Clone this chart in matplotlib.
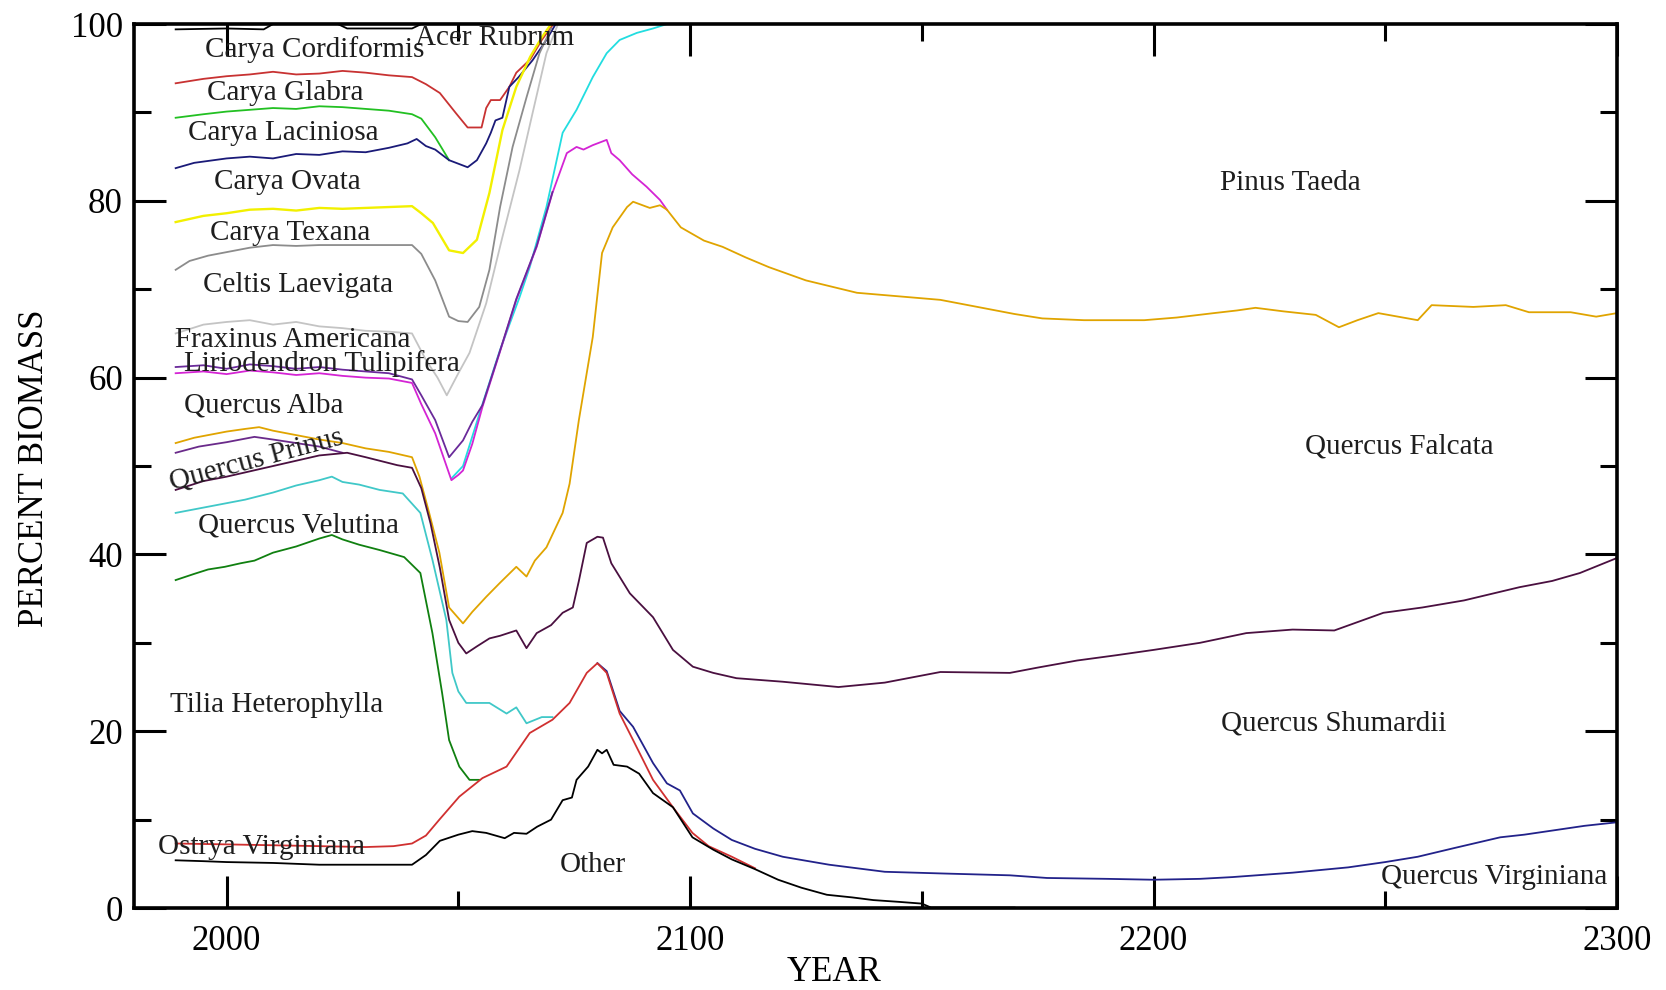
import matplotlib
matplotlib.use('Agg')
import matplotlib.pyplot as plt
from matplotlib.ticker import MultipleLocator

plt.rcParams['font.family'] = ['Liberation Serif', 'DejaVu Serif']

# cumulative boundaries (percent biomass)
acer_yr = [1989, 2000, 2008, 2010, 2024, 2026, 2040, 2042]
acer_val = [99.4, 99.5, 99.4, 100, 100, 99.5, 99.5, 100]

cordiformis_yr = [1989, 1995, 2000, 2005, 2010, 2015, 2020, 2025, 2030, 2035, 2040, 2043, 2046,
                  2049.5, 2052, 2055, 2056, 2057, 2059, 2061, 2062.5, 2065.5, 2068, 2070.5]
cordiformis_val = [93.3, 93.8, 94.1, 94.3, 94.6, 94.3, 94.4, 94.7, 94.5, 94.2, 94.0, 93.2, 92.2,
                   89.9, 88.3, 88.3, 90.5, 91.4, 91.4, 92.9, 94.5, 96.0, 98.2, 100]

glabra_yr = [1989, 1995, 2000, 2005, 2010, 2015, 2020, 2025, 2030, 2035, 2040, 2042, 2045, 2048]
glabra_val = [89.4, 89.8, 90.1, 90.3, 90.5, 90.4, 90.7, 90.6, 90.4, 90.2, 89.8, 89.3, 87.2, 84.6]

laciniosa_yr = [1989, 1993, 2000, 2005, 2010, 2015, 2020, 2025, 2030, 2035, 2039, 2041, 2043, 2045,
                2048, 2050, 2052, 2054, 2056, 2057, 2058, 2059.5, 2061, 2063, 2066, 2069, 2071]
laciniosa_val = [83.7, 84.3, 84.8, 85.0, 84.8, 85.3, 85.2, 85.6, 85.5, 86.0, 86.5, 87.0, 86.2, 85.8,
                 84.6, 84.2, 83.8, 84.6, 86.5, 87.7, 89.1, 89.4, 92.9, 94.0, 95.9, 98.2, 100]

ovata_yr = [1989, 1995, 2000, 2005, 2010, 2015, 2020, 2025, 2030, 2035, 2040, 2042, 2044.5, 2048,
            2051, 2054, 2056.7, 2059.5, 2062.5, 2065.5, 2068, 2070]
ovata_val = [77.6, 78.3, 78.6, 79.0, 79.1, 78.9, 79.2, 79.1, 79.2, 79.3, 79.4, 78.6, 77.5, 74.4,
             74.1, 75.6, 80.9, 88.0, 92.9, 96.3, 98.5, 100]

texana_yr = [1989, 1992, 1996, 2000, 2005, 2010, 2015, 2020, 2030, 2040, 2042, 2045, 2048, 2050,
             2052, 2054.5, 2056.7, 2059, 2061.7, 2064.7, 2067.5, 2070]
texana_val = [72.2, 73.2, 73.8, 74.2, 74.7, 75.0, 74.9, 75.0, 75.0, 75.0, 74.0, 71.0, 66.9, 66.4,
              66.3, 68.0, 72.2, 79.3, 86.1, 91.7, 96.7, 99.5]

celtis_yr = [1989, 1995, 2000, 2005, 2010, 2015, 2020, 2025, 2030, 2035, 2040, 2043, 2045.5, 2047.5,
             2050, 2052.4, 2056, 2059.5, 2063.2, 2066, 2069, 2071.5]
celtis_val = [65.0, 66.0, 66.3, 66.5, 66.0, 66.3, 65.8, 65.6, 65.3, 65.2, 65.0, 62.0, 60.0, 58.0,
              60.5, 62.8, 68.4, 75.9, 83.5, 89.9, 96.7, 100]

fraxinus_yr = [1989, 1995, 2000, 2005, 2010, 2015, 2020, 2025, 2030, 2035, 2040, 2042, 2045, 2048,
               2051, 2053, 2055.2, 2058.9, 2062.5, 2066.9, 2070.3]
fraxinus_val = [61.2, 61.4, 61.0, 61.5, 61.3, 61.0, 61.2, 60.9, 60.7, 60.5, 59.8, 58.0, 55.2, 51.0,
                52.9, 55.0, 56.9, 62.9, 68.9, 74.9, 81.0]

pinus_top_yr = [2048.5, 2051, 2055.2, 2058.9, 2063.2, 2065.4, 2069, 2072.5, 2075.5, 2079, 2082,
                2084.8, 2088.5, 2092, 2095]
pinus_top_val = [48.6, 50.0, 57.0, 63.0, 69.1, 72.5, 79.3, 87.7, 90.3, 94.0, 96.7, 98.2, 99.0, 99.5, 100]

lirio_yr = [1989, 1995, 2000, 2005, 2010, 2015, 2020, 2025, 2030, 2035, 2040, 2042, 2045, 2048.5,
            2050, 2051, 2053, 2055.2, 2058.9, 2062.5, 2066.9, 2070.3, 2073.4, 2075.5, 2077, 2079,
            2082, 2083, 2084.8, 2087.5, 2090.6, 2093.5, 2095]
lirio_val = [60.5, 60.7, 60.4, 60.8, 60.6, 60.3, 60.5, 60.2, 60.0, 59.9, 59.4, 57.0, 53.7, 48.4,
             49.0, 49.5, 52.5, 56.7, 62.8, 68.8, 74.8, 80.9, 85.4, 86.1, 85.8, 86.3,
             86.9, 85.4, 84.6, 83.0, 81.6, 80.1, 79.0]

alba_yr = [1989, 1993, 1997, 2000, 2004, 2007, 2010, 2015, 2020, 2025, 2030, 2035, 2040, 2041.6,
           2043.7, 2045.9, 2048, 2050, 2051, 2053, 2056, 2059, 2062.5, 2064.7, 2066.5, 2069, 2072.5,
           2074, 2076, 2079, 2081, 2083.3, 2086.4, 2087.7, 2091.3, 2093.5, 2095, 2098, 2103, 2107,
           2112, 2117, 2125, 2136, 2145, 2154, 2163, 2170, 2176, 2185, 2198, 2205, 2213, 2218, 2222,
           2228, 2235, 2240, 2244, 2248.5, 2257, 2260, 2269, 2276, 2281, 2290, 2295.5, 2300]
alba_val = [52.6, 53.2, 53.6, 53.9, 54.2, 54.4, 54.0, 53.5, 53.0, 52.6, 52.0, 51.6, 51.0, 48.8,
            44.7, 40.2, 34.0, 32.8, 32.2, 33.5, 35.2, 36.8, 38.6, 37.5, 39.3, 40.8, 44.7,
            48.0, 55.2, 64.6, 74.1, 77.0, 79.3, 79.9, 79.2, 79.5, 79.0, 77.0, 75.5, 74.8,
            73.6, 72.5, 71.0, 69.6, 69.2, 68.8, 67.9, 67.2, 66.7, 66.5, 66.5, 66.8, 67.3, 67.6, 67.9,
            67.5, 67.1, 65.7, 66.5, 67.3, 66.5, 68.2, 68.0, 68.2, 67.4, 67.4, 66.9, 67.3]

falcata_yr = [1989, 1994, 2000, 2006, 2010, 2015, 2020, 2025]
falcata_val = [51.5, 52.2, 52.7, 53.3, 53.0, 52.6, 52.2, 51.5]

prinus_yr = [1989, 1995, 2000, 2005, 2010, 2015, 2020, 2026, 2030, 2036.8, 2040, 2042, 2044, 2046,
             2048, 2050, 2051.7, 2054, 2056.7, 2059, 2062.5, 2064.7, 2066.9, 2070, 2072.5, 2074.7,
             2076, 2077.7, 2080, 2081.2, 2083, 2087, 2092, 2096.3, 2100.6, 2105, 2110, 2120, 2132,
             2142, 2154, 2169, 2175, 2183.5, 2192, 2200, 2210, 2220, 2230, 2239, 2249.6, 2258, 2267,
             2279, 2286, 2292, 2300]
prinus_val = [47.3, 48.3, 48.8, 49.4, 50.0, 50.6, 51.2, 51.5, 51.0, 50.1, 49.8, 47.5, 43.5, 38.5,
              32.6, 30.0, 28.8, 29.6, 30.5, 30.8, 31.4, 29.4, 31.1, 32.0, 33.4, 34.0,
              37.0, 41.3, 42.0, 41.9, 39.0, 35.6, 32.9, 29.2, 27.3, 26.6, 26.0, 25.6, 25.0,
              25.5, 26.7, 26.6, 27.2, 28.0, 28.6, 29.2, 30.0, 31.1, 31.5, 31.4, 33.4, 34.0, 34.8,
              36.3, 37.0, 37.9, 39.6]

shumardii_yr = [1989, 1995, 2000, 2004, 2010, 2015, 2020, 2022.7, 2025, 2028.6, 2033, 2038, 2041.8,
                2044.4, 2047.4, 2048.7, 2050, 2051.7, 2056.7, 2060.4, 2062.5, 2064.7, 2068, 2070.3]
shumardii_val = [44.7, 45.3, 45.8, 46.2, 47.0, 47.8, 48.4, 48.8, 48.2, 47.9, 47.3, 46.9, 44.7,
                 39.4, 32.6, 26.6, 24.5, 23.2, 23.2, 22.0, 22.7, 20.9, 21.6, 21.6]

velutina_yr = [1989, 1993, 1996, 1999.6, 2003, 2006, 2010, 2015, 2020, 2022.7, 2025, 2028.6, 2033,
               2038.3, 2041.8, 2044.4, 2046.5, 2048, 2050.2, 2052.4, 2054.5]
velutina_val = [37.1, 37.8, 38.3, 38.6, 39.0, 39.3, 40.2, 40.9, 41.8, 42.2, 41.7, 41.1, 40.5,
                39.7, 37.9, 31.1, 24.3, 19.0, 16.0, 14.5, 14.5]

tilia_yr = [1989, 2000, 2010, 2020, 2030, 2036, 2040, 2043, 2045.9, 2050.2, 2055.2, 2060.4, 2065.4,
            2070.3, 2074, 2077.7, 2080, 2082, 2084.8, 2087.7, 2092, 2096.3, 2100.5, 2104, 2109, 2114]
tilia_val = [7.3, 7.2, 7.1, 7.0, 6.9, 7.0, 7.3, 8.2, 10.0, 12.6, 14.7, 16.0, 19.8,
             21.3, 23.2, 26.6, 27.7, 26.6, 22.0, 19.0, 14.5, 11.4, 8.5, 7.0, 5.8, 4.5]

virginiana_yr = [2080, 2082, 2084.8, 2087.7, 2092, 2095, 2097.8, 2100.6, 2105, 2109, 2114, 2120, 2130,
                 2142, 2155, 2169, 2177, 2190, 2200, 2210, 2217, 2230, 2242, 2250, 2257, 2265,
                 2274.8, 2280, 2286.5, 2293, 2300]
virginiana_val = [27.7, 26.8, 22.3, 20.5, 16.4, 14.1, 13.3, 10.7, 9.0, 7.7, 6.7, 5.8, 4.9,
                  4.1, 3.9, 3.7, 3.4, 3.3, 3.2, 3.3, 3.5, 4.0, 4.6, 5.2, 5.8, 6.8,
                  8.0, 8.3, 8.8, 9.3, 9.7]

other_yr = [1989, 1995, 2000, 2010, 2020, 2027.5, 2035, 2040, 2043, 2046, 2050, 2053, 2056, 2058,
            2060, 2062, 2064.7, 2067, 2070, 2072.5, 2074.5, 2075.5, 2078, 2080, 2081, 2082, 2083.5,
            2086.4, 2089, 2092, 2096.3, 2100.5, 2105, 2109, 2114, 2119, 2124, 2129.5, 2135, 2139.5,
            2145, 2150, 2152, 2170]
other_val = [5.4, 5.3, 5.2, 5.1, 4.9, 4.9, 4.9, 4.9, 6.0, 7.6, 8.3, 8.7, 8.5, 8.2,
             7.9, 8.5, 8.4, 9.2, 10.0, 12.2, 12.5, 14.5, 16.0, 17.9, 17.5, 17.9, 16.2,
             16.0, 15.2, 13.0, 11.4, 8.0, 6.6, 5.5, 4.4, 3.2, 2.3, 1.5, 1.2, 0.9,
             0.7, 0.5, 0.05, 0.05]

# species labels: name, year, percent, rotation
label_names = ['Acer Rubrum', 'Carya Cordiformis', 'Carya Glabra', 'Carya Laciniosa', 'Carya Ovata',
               'Carya Texana', 'Celtis Laevigata', 'Fraxinus Americana', 'Liriodendron Tulipifera',
               'Quercus Alba', 'Quercus Prinus', 'Quercus Velutina', 'Tilia Heterophylla',
               'Ostrya Virginiana', 'Other', 'Pinus Taeda', 'Quercus Falcata', 'Quercus Shumardii',
               'Quercus Virginiana']
label_x = [2057.9, 2019.0, 2012.7, 2012.3, 2013.1, 2013.7, 2015.5, 2014.2, 2020.5,
           2008.0, 2006.5, 2015.5, 2010.7, 2007.6, 2079.0, 2229.5, 2253.0, 2238.8, 2273.6]
label_y = [98.4, 97.1, 92.2, 87.7, 82.1, 76.4, 70.5, 64.3, 61.6,
           56.9, 50.7, 43.3, 23.0, 6.9, 4.9, 82.0, 52.2, 20.9, 3.5]
label_rot = [0, 0, 0, 0, 0, 0, 0, 0, 0, 0, 15, 0, 0, 0, 0, 0, 0, 0, 0]


def plotBiomass():
    fig = plt.figure(figsize=(16.66, 9.90), dpi=100)
    ax = fig.add_axes([0.0804, 0.0828, 0.8902, 0.8929])

    lw = 1.3
    # lines, roughly top to bottom
    ax.plot(acer_yr, acer_val, color='black', lw=lw)
    ax.plot(pinus_top_yr, pinus_top_val, color='#22dde0', lw=lw)
    ax.plot(cordiformis_yr, cordiformis_val, color='#c83232', lw=lw)
    ax.plot(glabra_yr, glabra_val, color='#22c022', lw=lw)
    ax.plot(laciniosa_yr, laciniosa_val, color='#1a1a78', lw=lw)
    ax.plot(ovata_yr, ovata_val, color='#f2f000', lw=lw + 0.4)
    ax.plot(texana_yr, texana_val, color='#8c8c8c', lw=lw)
    ax.plot(celtis_yr, celtis_val, color='#c4c4c4', lw=lw)
    ax.plot(lirio_yr, lirio_val, color='#d424d4', lw=lw)
    ax.plot(fraxinus_yr, fraxinus_val, color='#6a2a9a', lw=lw)
    ax.plot(falcata_yr, falcata_val, color='#6a2a8a', lw=lw)
    ax.plot(alba_yr, alba_val, color='#e0a400', lw=lw)
    ax.plot(prinus_yr, prinus_val, color='#4a1040', lw=lw)
    ax.plot(shumardii_yr, shumardii_val, color='#40c8c8', lw=lw)
    ax.plot(velutina_yr, velutina_val, color='#108010', lw=lw)
    ax.plot(virginiana_yr, virginiana_val, color='#22228a', lw=lw)
    ax.plot(tilia_yr, tilia_val, color='#d03030', lw=lw)
    ax.plot(other_yr, other_val, color='black', lw=lw)

    for name, x, y, r in zip(label_names, label_x, label_y, label_rot):
        ax.text(x, y, name, fontsize=21, ha='center', va='center', rotation=r,
                rotation_mode='anchor', color='#1e1e1e')

    ax.set_xlim(1980, 2300)
    ax.set_ylim(0, 100)
    ax.xaxis.set_major_locator(MultipleLocator(100))
    ax.xaxis.set_minor_locator(MultipleLocator(50))
    ax.yaxis.set_major_locator(MultipleLocator(20))
    ax.yaxis.set_minor_locator(MultipleLocator(10))
    ax.tick_params(which='both', direction='in', top=True, right=True, width=2.2)
    ax.tick_params(which='major', length=23, labelsize=25)
    ax.tick_params(which='minor', length=12)
    ax.tick_params(axis='y', which='major', pad=8)
    ax.tick_params(axis='x', which='major', pad=12)
    for s in ax.spines.values():
        s.set_linewidth(2.6)

    ax.set_xlabel('YEAR', fontsize=25, va='center')
    ax.xaxis.set_label_coords(0.472, -0.0724)
    ax.set_ylabel('PERCENT BIOMASS', fontsize=25, va='center', ha='center')
    ax.yaxis.set_label_coords(-0.0668, 0.498)

    fig.savefig('out.png', dpi=100)
    return None


if __name__ == '__main__':
    plotBiomass()
